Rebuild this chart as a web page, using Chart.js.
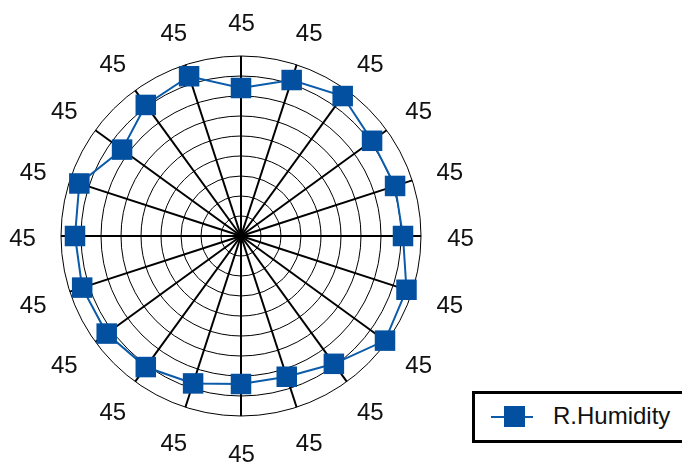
<!DOCTYPE html>
<html>
<head>
<meta charset="utf-8">
<script src="https://cdn.jsdelivr.net/npm/chart.js@4/dist/chart.umd.min.js"></script>
<style>
  html, body { margin: 0; padding: 0; background: #fff; overflow: hidden; }
  #wrap { position: relative; width: 682px; height: 462px; }
  canvas { position: absolute; left: 0; top: 0; }
  #legend { position: absolute; left: 472px; top: 391px; width: 240px; height: 46px;
            border: 3px solid #000; box-sizing: content-box; background: #fff; }
  #legend .ln { position: absolute; left: 16px; top: 22px; width: 42px; height: 2px; background: #0A5BAA; }
  #legend .sq { position: absolute; left: 29px; top: 12px; width: 21px; height: 21px; background: #02509F; }
  #legend .tx { position: absolute; left: 78px; top: 8px; font: 24px "Liberation Sans", Arial, sans-serif;
                color: #111; line-height: 28px; white-space: nowrap; }
</style>
</head>
<body>
<div id="wrap">
  <canvas id="c" width="682" height="462"></canvas>
  <div id="legend"><span class="ln"></span><span class="sq"></span><span class="tx">R.Humidity</span></div>
</div>
<script>
// Categories (angular labels, as printed on the reference)
const categories = ["45","45","45","45","45","45","45","45","45","45",
                    "45","45","45","45","45","45","45","45","45","45"];
// Series values (R.Humidity), read clockwise starting at the top spoke
const humidity = [74, 82, 86.5, 81, 81, 81, 87, 89, 79, 74,
                  74, 77.5, 81, 83, 83.5, 83, 85, 73.5, 81, 84];
// Radial tick settings
const radialMin = 0;
const radialMax = 90;
const radialStep = 10;

const pointLabelPlugin = {
  id: 'pointLabelPlugin',
  afterDraw(chart) {
    const scale = chart.scales.r;
    const ctx = chart.ctx;
    ctx.save();
    ctx.font = '24px "Liberation Sans", Arial, sans-serif';
    ctx.fillStyle = '#111';
    ctx.textAlign = 'center';
    ctx.textBaseline = 'middle';
    const rx = scale.drawingArea + 39;
    const ry = scale.drawingArea + 35.5;
    chart.data.labels.forEach((lab, i) => {
      const p = scale.getPointPosition(i, 1);
      const ux = p.x - scale.xCenter, uy = p.y - scale.yCenter;
      ctx.fillText(lab, scale.xCenter + 0.5 + ux * rx, scale.yCenter + 3.5 + uy * ry);
    });
    ctx.restore();
  }
};

new Chart(document.getElementById('c'), {
  type: 'radar',
  data: {
    labels: categories,
    datasets: [{
      label: 'R.Humidity',
      data: humidity,
      borderColor: '#0A5BAA',
      borderWidth: 2,
      backgroundColor: '#02509F',
      fill: false,
      pointStyle: 'rect',
      pointRadius: 14.5,
      pointHoverRadius: 14.5,
      pointBackgroundColor: '#02509F',
      pointBorderColor: '#02509F',
      pointBorderWidth: 0
    }]
  },
  options: {
    responsive: false,
    devicePixelRatio: 1,
    animation: false,
    layout: { padding: { left: 61, top: 56, right: 261, bottom: 46 } },
    plugins: { legend: { display: false }, tooltip: { enabled: false } },
    scales: {
      r: {
        min: radialMin,
        max: radialMax,
        ticks: { display: false, stepSize: radialStep },
        grid: { circular: true, color: '#000', lineWidth: 1 },
        angleLines: { color: '#000', lineWidth: 2 },
        pointLabels: { display: false }
      }
    }
  },
  plugins: [pointLabelPlugin]
});
</script>
</body>
</html>
